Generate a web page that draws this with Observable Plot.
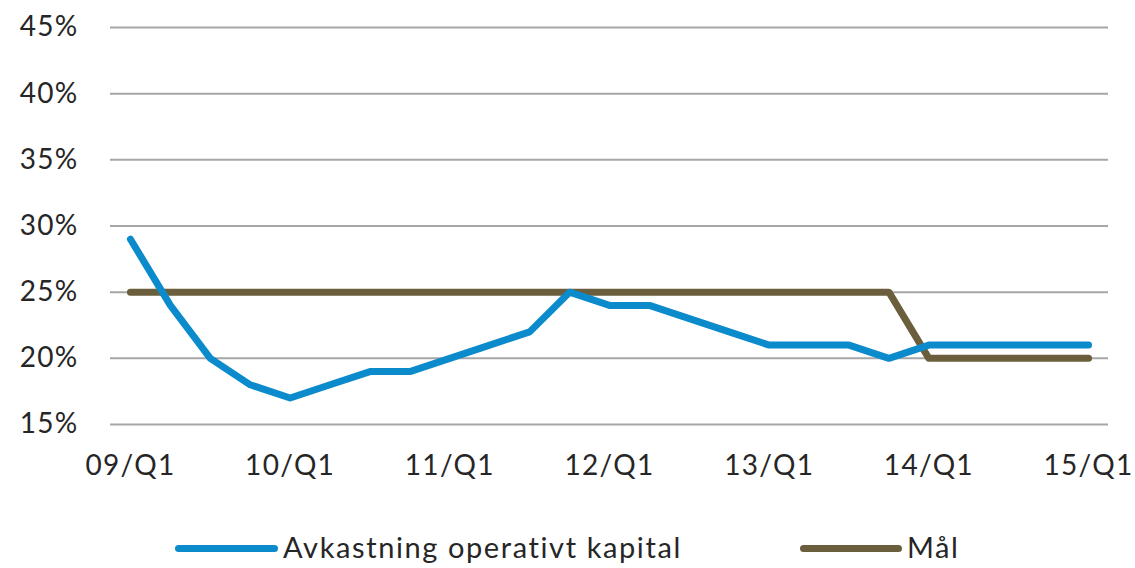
<!DOCTYPE html>
<html>
<head>
<meta charset="utf-8">
<script src="https://cdn.jsdelivr.net/npm/d3@7"></script>
<script src="https://cdn.jsdelivr.net/npm/@observablehq/plot@0.6"></script>
<style>
  html, body { margin: 0; padding: 0; background: #fff; }
  body { width: 1135px; height: 568px; overflow: hidden; font-family: Lato, "Open Sans", sans-serif; color: #262626; }
  #legend { position: relative; height: 68px; }
  .sw { position: absolute; height: 7px; border-radius: 4px; top: 45px; }
  .lt { position: absolute; top: 29px; font-size: 29px; line-height: 36px; letter-spacing: 1.6px; }
  #chart svg text { letter-spacing: 1.3px; }
</style>
</head>
<body>
<div id="chart"></div>
<div id="legend">
  <div class="sw" style="left:175px;width:103px;background:#0b8bcb"></div>
  <div class="lt" style="left:283px">Avkastning operativt kapital</div>
  <div class="sw" style="left:800px;width:102px;background:#6b5e3c"></div>
  <div class="lt" style="left:907px">Mål</div>
</div>
<script>
const quarters = ["09/Q1","09/Q2","09/Q3","09/Q4","10/Q1","10/Q2","10/Q3","10/Q4","11/Q1","11/Q2","11/Q3","11/Q4","12/Q1","12/Q2","12/Q3","12/Q4","13/Q1","13/Q2","13/Q3","13/Q4","14/Q1","14/Q2","14/Q3","14/Q4","15/Q1"];
const avkastning = [29,24,20,18,17,18,19,19,20,21,22,25,24,24,23,22,21,21,21,20,21,21,21,21,21];
const maal = [25,25,25,25,25,25,25,25,25,25,25,25,25,25,25,25,25,25,25,25,20,20,20,20,20];
const yTicks = [15,20,25,30,35,40,45];
const xTickIdx = [0,4,8,12,16,20,24];

const blue = avkastning.map((v,i) => ({i, v}));
const brown = maal.map((v,i) => ({i, v}));

const chart = Plot.plot({
  width: 1135,
  height: 500,
  marginLeft: 110,
  marginRight: 27,
  marginTop: 27,
  marginBottom: 76,
  style: { fontFamily: "Lato, 'Open Sans', sans-serif", fontSize: "28px", color: "#262626", background: "#fff" },
  x: { domain: [-0.5, 24.5], ticks: xTickIdx, tickFormat: i => quarters[i], tickSize: 0, tickPadding: 31, label: null },
  y: { domain: [15, 45], ticks: yTicks, tickFormat: d => d + "%", tickSize: 0, tickPadding: 32, label: null },
  marks: [
    Plot.ruleY(yTicks, { stroke: "#a6a6a6", strokeWidth: 2 }),
    Plot.line(brown, { x: "i", y: "v", stroke: "#6b5e3c", strokeWidth: 7, strokeLinecap: "round", strokeLinejoin: "round" }),
    Plot.line(blue, { x: "i", y: "v", stroke: "#0b8bcb", strokeWidth: 7, strokeLinecap: "round", strokeLinejoin: "round" })
  ]
});
document.getElementById("chart").appendChild(chart);
</script>
</body>
</html>
